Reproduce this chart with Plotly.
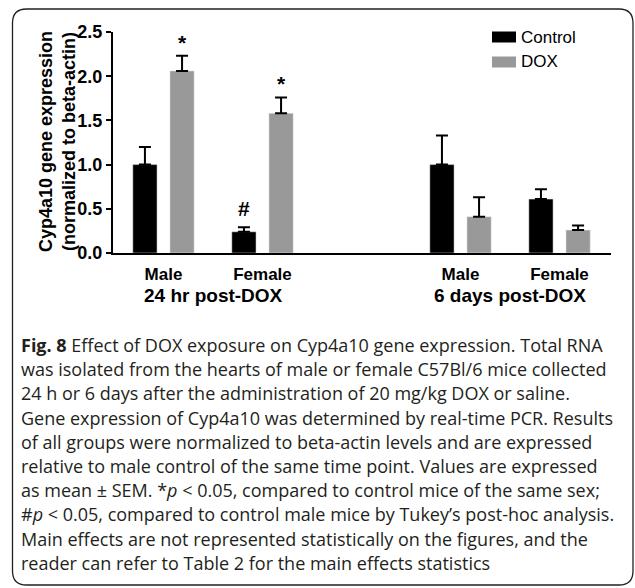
import plotly.graph_objects as go

# ---- data ----
x_pos = [0, 1, 3, 4]
sex_labels = ["Male", "Female", "Male", "Female"]
group_labels = ["24 hr post-DOX", "6 days post-DOX"]
group_pos = [0.5, 3.5]
control_mean = [1.00, 0.24, 1.00, 0.61]
control_sem = [0.20, 0.05, 0.33, 0.11]
dox_mean = [2.06, 1.58, 0.41, 0.26]
dox_sem = [0.17, 0.18, 0.22, 0.05]
dox_marks = ["*", "*", "", ""]
control_marks = ["", "#", "", ""]

caption_lines = [
    "<b>Fig. 8</b> Effect of DOX exposure on Cyp4a10 gene expression. Total RNA",
    "was isolated from the hearts of male or female C57Bl/6 mice collected",
    "24 h or 6 days after the administration of 20 mg/kg DOX or saline.",
    "Gene expression of Cyp4a10 was determined by real-time PCR. Results",
    "of all groups were normalized to beta-actin levels and are expressed",
    "relative to male control of the same time point. Values are expressed",
    "as mean ± SEM. *<i>p</i> &lt; 0.05, compared to control mice of the same sex;",
    "#<i>p</i> &lt; 0.05, compared to control male mice by Tukey’s post-hoc analysis.",
    "Main effects are not represented statistically on the figures, and the",
    "reader can refer to Table 2 for the main effects statistics",
]

W, H = 635, 588
L, R, T, B = 113, 24, 32, 335
PW = W - L - R
PH = H - T - B

def px(x):
    return (x - L) / PW

def py(y):
    return (H - B - y) / PH

CTRL = "#000000"
DOXC = "#999999"
AX = "Liberation Sans, Arial, sans-serif"

fig = go.Figure()
fig.add_trace(go.Bar(
    x=x_pos, y=control_mean, name="Control", marker_color=CTRL,
    width=0.245, offset=-0.31,
    error_y=dict(type="data", array=control_sem, arrayminus=[0]*4, symmetric=False,
                 color="#000", thickness=2, width=6),
    showlegend=False,
))
fig.add_trace(go.Bar(
    x=x_pos, y=dox_mean, name="DOX", marker_color=DOXC,
    width=0.245, offset=0.065,
    error_y=dict(type="data", array=dox_sem, arrayminus=[0]*4, symmetric=False,
                 color="#000", thickness=2, width=6),
    showlegend=False,
))

annotations = []
for i, x in enumerate(x_pos):
    if dox_marks[i]:
        annotations.append(dict(x=x + 0.065 + 0.1225, y=dox_mean[i] + dox_sem[i], xref="x", yref="y",
                                text="<b>%s</b>" % dox_marks[i], showarrow=False, yanchor="bottom",
                                yshift=0, font=dict(family=AX, size=21, color="#000")))
    if control_marks[i]:
        annotations.append(dict(x=x - 0.31 + 0.1225, y=control_mean[i] + control_sem[i], xref="x", yref="y",
                                text="<b>%s</b>" % control_marks[i], showarrow=False, yanchor="bottom",
                                yshift=5, font=dict(family=AX, size=21, color="#000")))

for g, gp in zip(group_labels, group_pos):
    annotations.append(dict(x=gp, y=py(295), xref="x", yref="paper", text="<b>%s</b>" % g,
                            showarrow=False, yanchor="middle",
                            font=dict(family=AX, size=19, color="#000")))

# y-axis title
annotations.append(dict(x=px(57), y=py(142), xref="paper", yref="paper",
                        text="<b>Cyp4a10 gene expression<br>(normalized to beta-actin)</b>",
                        textangle=-90, showarrow=False, xanchor="center", yanchor="middle",
                        font=dict(family=AX, size=18, color="#000")))

# legend (manual)
leg_items = [("Control", CTRL, 37), ("DOX", DOXC, 62)]
shapes = []
for name, col, yc in leg_items:
    shapes.append(dict(type="rect", xref="paper", yref="paper",
                       x0=px(492), x1=px(516), y0=py(yc - 5.5), y1=py(yc + 5.5),
                       fillcolor=col, line=dict(width=0)))
    annotations.append(dict(x=px(519), y=py(yc), xref="paper", yref="paper", text=name,
                            showarrow=False, xanchor="left", yanchor="middle",
                            font=dict(family=AX, size=17, color="#000")))

# caption
for i, line in enumerate(caption_lines):
    annotations.append(dict(x=px(19), y=py(345 + 24.2 * i), xref="paper", yref="paper", text=line,
                            showarrow=False, xanchor="left", yanchor="middle",
                            font=dict(family="Open Sans, sans-serif", size=18, color="#231f20")))

# rounded border
x0, x1, y0, y1, r = 12.5, 633, 9, 585, 14
path = ("M {a},{b} L {c},{b} Q {x1},{b0} {x1},{d} L {x1},{e} Q {x1},{f} {c},{f} "
        "L {a},{f} Q {x0},{f} {x0},{e} L {x0},{d} Q {x0},{b0} {a},{b} Z").format(
    a=px(x0 + r), b=py(y0), c=px(x1 - r), x1=px(x1), b0=py(y0), d=py(y0 + r),
    e=py(y1 - r), f=py(y1), x0=px(x0))
shapes.append(dict(type="path", xref="paper", yref="paper", path=path,
                   line=dict(color="#231f20", width=1.3), fillcolor="rgba(0,0,0,0)"))

fig.update_layout(
    width=W, height=H,
    margin=dict(l=L, r=R, t=T, b=B, pad=0),
    plot_bgcolor="white", paper_bgcolor="white",
    showlegend=False,
    annotations=annotations, shapes=shapes,
    xaxis=dict(range=[-0.51, 4.52], tickvals=x_pos,
               ticktext=sex_labels,
               showline=True, linecolor="#000", linewidth=2, ticks="", ticklabelstandoff=5,
               tickfont=dict(family=AX, size=17, color="#000", weight="bold"),
               showgrid=False, zeroline=False, fixedrange=True),
    yaxis=dict(range=[0, 2.5], tickvals=[0, 0.5, 1.0, 1.5, 2.0, 2.5], tickformat=".1f",
               showline=True, linecolor="#000", linewidth=2, ticks="outside", ticklen=5,
               tickwidth=2, tickcolor="#000",
               tickfont=dict(family=AX, size=18, color="#000", weight="bold"),
               showgrid=False, zeroline=False, fixedrange=True),
)

fig.write_html("out.html", config={"displayModeBar": False},
               post_script="document.body.style.margin='0';document.body.style.overflow='hidden';")
